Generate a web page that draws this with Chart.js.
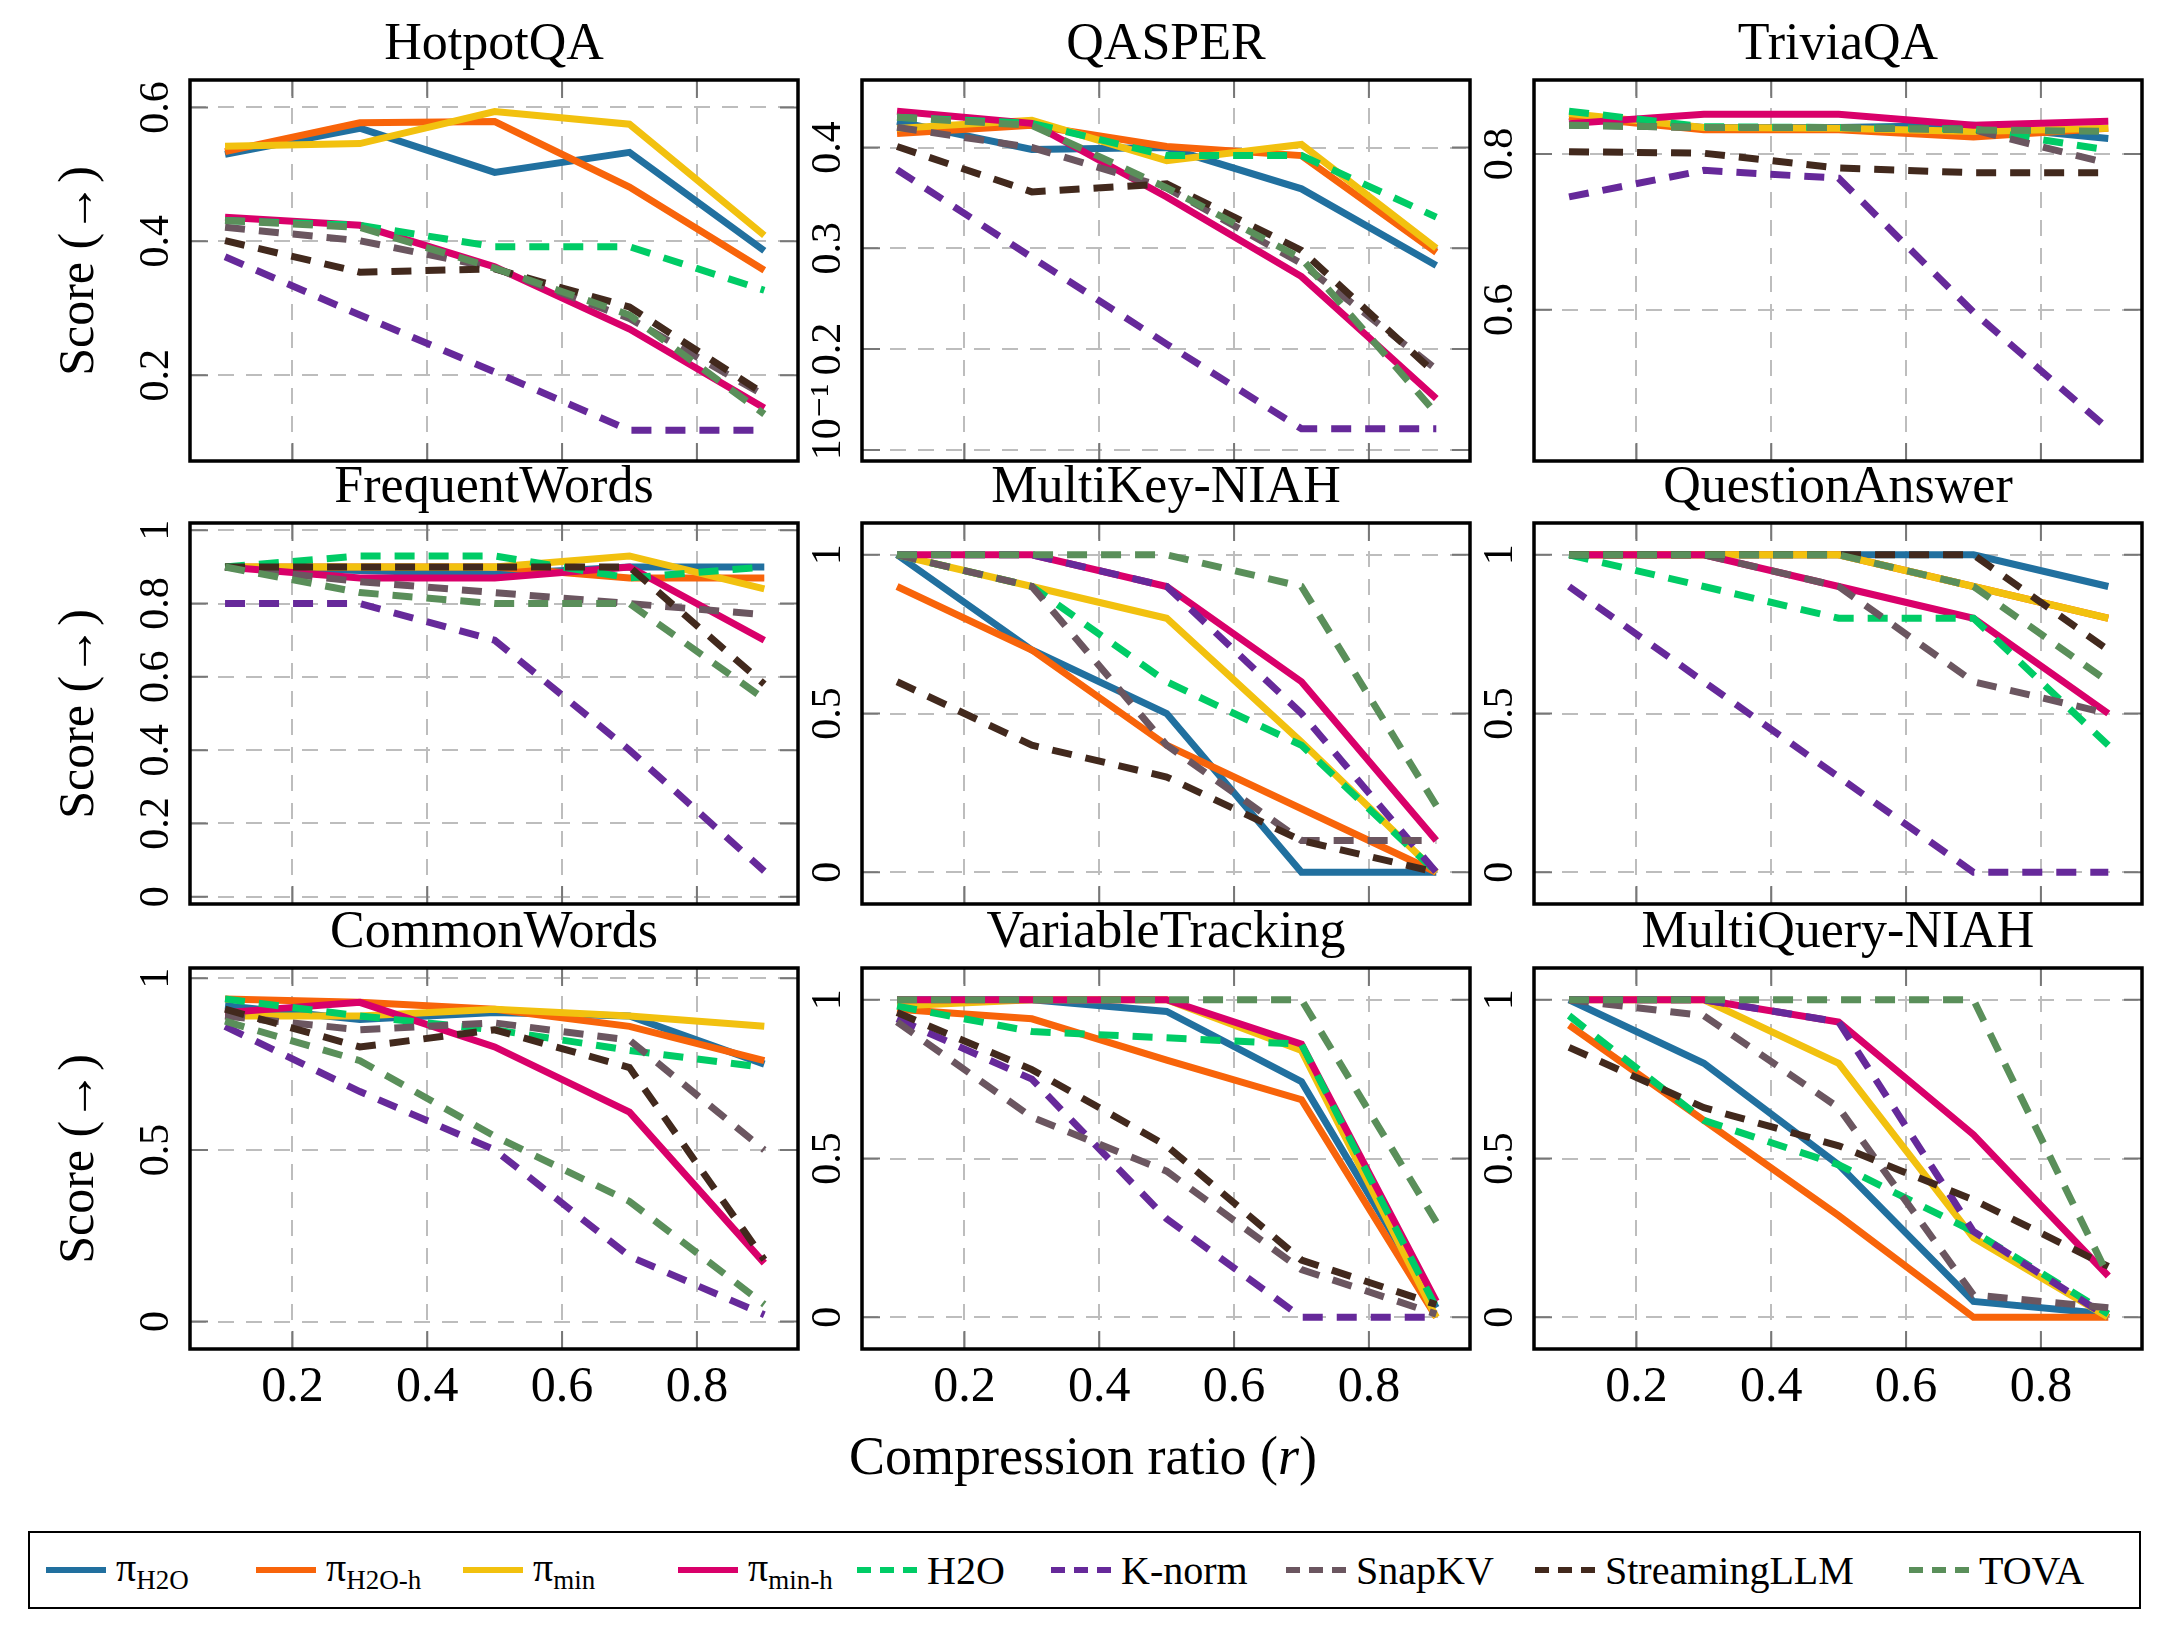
<!DOCTYPE html>
<html><head><meta charset="utf-8">
<script src="https://cdn.jsdelivr.net/npm/chart.js@4/dist/chart.umd.min.js"></script>
<style>
body{margin:0;width:2168px;height:1640px;background:#fff;position:relative;font-family:"Liberation Serif","DejaVu Serif",serif;}
canvas{position:absolute;}
.t{position:absolute;font-size:52px;text-align:center;white-space:nowrap;color:#000;font-family:"Liberation Serif","DejaVu Serif",serif;}
.yt{position:absolute;font-size:50px;white-space:nowrap;transform:translate(-50%,-50%) rotate(-90deg);font-family:"Liberation Serif","DejaVu Serif",serif;}
#legend{position:absolute;left:28px;top:1531px;width:2109px;height:74px;border:2px solid #000;}
.li{position:absolute;top:0;height:74px;display:flex;align-items:center;font-size:40px;white-space:nowrap;font-family:"Liberation Serif","DejaVu Serif",serif;}
.li span{font-family:"Liberation Serif","DejaVu Serif",serif;}
.li svg{margin-right:10px;}
sub{font-size:27px;vertical-align:-8px;font-family:"Liberation Serif","DejaVu Serif",serif;}
</style></head><body>
<div id="legend"></div>
<script>
const xValues = [0.1, 0.3, 0.5, 0.7, 0.9];
const methods = ["πH2O","πH2O-h","πmin","πmin-h","H2O","K-norm","SnapKV","StreamingLLM","TOVA"];
const colors = ["#21709f","#f8640a","#f2c10f","#d9006a","#00cc66","#66299a","#6b5660","#42291d","#5a8f5a"];
const dashed = [false,false,false,false,true,true,true,true,true];
const panelTitles = ["HotpotQA","QASPER","TriviaQA","FrequentWords","MultiKey-NIAH","QuestionAnswer","CommonWords","VariableTracking","MultiQuery-NIAH"];

// rows: πH2O, πH2O-h, πmin, πmin-h, H2O, K-norm, SnapKV, StreamingLLM, TOVA
const hotpotqa = [
 [0.530,0.569,0.503,0.533,0.386],[0.534,0.577,0.579,0.481,0.357],[0.542,0.546,0.594,0.575,0.409],
 [0.436,0.424,0.362,0.269,0.151],[0.431,0.424,0.392,0.392,0.327],[0.377,0.29,0.205,0.118,0.118],
 [0.421,0.401,0.36,0.285,0.17],[0.401,0.354,0.359,0.302,0.172],[0.431,0.421,0.36,0.29,0.142]];
const qasper = [
 [0.426,0.398,0.400,0.359,0.283],[0.414,0.422,0.401,0.392,0.296],[0.419,0.427,0.387,0.403,0.300],
 [0.436,0.424,0.351,0.272,0.151],[0.430,0.424,0.392,0.392,0.331],[0.378,0.291,0.205,0.121,0.121],
 [0.420,0.400,0.360,0.285,0.180],[0.401,0.356,0.364,0.298,0.175],[0.430,0.422,0.360,0.290,0.136]];
const triviaqa = [
 [0.848,0.834,0.834,0.837,0.820],[0.848,0.831,0.831,0.822,0.833],[0.852,0.834,0.833,0.829,0.833],
 [0.839,0.851,0.851,0.837,0.842],[0.855,0.835,0.834,0.832,0.805],[0.745,0.779,0.769,0.597,0.447],
 [0.837,0.834,0.834,0.831,0.788],[0.803,0.801,0.782,0.776,0.776],[0.837,0.834,0.834,0.831,0.829]];
const frequentwords = [
 [0.90,0.89,0.88,0.90,0.90],[0.90,0.90,0.90,0.87,0.87],[0.90,0.90,0.90,0.93,0.84],
 [0.90,0.87,0.87,0.90,0.70],[0.90,0.93,0.93,0.87,0.90],[0.80,0.80,0.70,0.40,0.07],
 [0.90,0.86,0.83,0.80,0.77],[0.90,0.90,0.90,0.90,0.58],[0.90,0.83,0.80,0.80,0.54]];
const multikeyniah = [
 [1.0,0.7,0.5,0.0,0.0],[0.9,0.7,0.4,0.2,0.0],[1.0,0.9,0.8,0.41,0.0],
 [1.0,1.0,0.9,0.6,0.1],[1.0,0.9,0.6,0.4,0.0],[1.0,1.0,0.9,0.5,0.0],
 [1.0,0.9,0.4,0.1,0.1],[0.6,0.4,0.3,0.1,0.0],[1.0,1.0,1.0,0.9,0.21]];
const questionanswer = [
 [1,1,1,1,0.9],[1,1,1,0.9,0.8],[1,1,1,0.9,0.8],
 [1,1,0.9,0.8,0.5],[1,0.9,0.8,0.8,0.4],[0.9,0.6,0.3,0.0,0.0],
 [1,1,0.9,0.6,0.5],[1,1,1,1,0.7],[1,1,1,0.9,0.6]];
const commonwords = [
 [0.92,0.88,0.90,0.89,0.75],[0.94,0.93,0.91,0.86,0.76],[0.89,0.89,0.91,0.89,0.86],
 [0.90,0.93,0.80,0.61,0.17],[0.94,0.89,0.85,0.79,0.74],[0.86,0.67,0.50,0.19,0.02],
 [0.89,0.85,0.87,0.82,0.50],[0.91,0.80,0.85,0.74,0.18],[0.875,0.76,0.54,0.35,0.05]];
const variabletracking = [
 [1.0,1.0,0.963,0.742,0.03],[0.97,0.94,0.81,0.685,0.0],[0.98,1.0,1.0,0.84,0.0],
 [1.0,1.0,1.0,0.86,0.05],[0.98,0.90,0.88,0.86,0.03],[0.94,0.75,0.31,0.0,0.0],
 [0.93,0.63,0.46,0.15,0.01],[0.96,0.78,0.54,0.18,0.04],[1.0,1.0,1.0,1.0,0.30]];
const multiqueryniah = [
 [1.0,0.8,0.48,0.05,0.01],[0.92,0.62,0.32,0.0,0.0],[1.0,1.0,0.8,0.25,0.0],
 [1.0,1.0,0.93,0.575,0.13],[0.95,0.62,0.48,0.27,0.01],[1.0,1.0,0.93,0.27,0.0],
 [1.0,0.95,0.66,0.07,0.03],[0.85,0.66,0.54,0.37,0.16],[1.0,1.0,1.0,1.0,0.13]];
const panelData = [hotpotqa,qasper,triviaqa,frequentwords,multikeyniah,questionanswer,commonwords,variabletracking,multiqueryniah];

const yRanges = [[0.072,0.641],[0.089,0.467],[0.406,0.895],[-0.02,1.02],[-0.1,1.1],[-0.1,1.1],[-0.08,1.03],[-0.1,1.1],[-0.1,1.1]];
const yTickValues = [[0.2,0.4,0.6],[0.1,0.2,0.3,0.4],[0.6,0.8],[0,0.2,0.4,0.6,0.8,1],[0,0.5,1],[0,0.5,1],[0,0.5,1],[0,0.5,1],[0,0.5,1]];
const yTickLabels = [["0.2","0.4","0.6"],["1 · 10⁻¹","0.2","0.3","0.4"],["0.6","0.8"],["0","0.2","0.4","0.6","0.8","1"],["0","0.5","1"],["0","0.5","1"],["0","0.5","1"],["0","0.5","1"],["0","0.5","1"]];
const xTickValues = [0.2,0.4,0.6,0.8];
const xTickLabels = ["0.2","0.4","0.6","0.8"];
const xRange = [0.048,0.95];

const colLeft=[190,862,1534], rowTop=[80,523,968], PW=608, PH=381;
const PADL=70, PADT=5, PADR=8;
const FONT='"Liberation Serif","DejaVu Serif",serif';
Chart.defaults.font.family=FONT;

const framePlugin = {
  id:'frame',
  afterDraw(chart){
    const {ctx, chartArea:a, scales:{x,y}} = chart;
    const o = chart.options.plugins.frame;
    ctx.save();
    ctx.strokeStyle='#777'; ctx.lineWidth=2;
    y.ticks.forEach(t=>{const py=y.getPixelForValue(t.value);
      ctx.beginPath();ctx.moveTo(a.left,py);ctx.lineTo(a.left+18,py);ctx.moveTo(a.right,py);ctx.lineTo(a.right-18,py);ctx.stroke();});
    x.ticks.forEach(t=>{const px=x.getPixelForValue(t.value);
      ctx.beginPath();ctx.moveTo(px,a.bottom);ctx.lineTo(px,a.bottom-18);ctx.moveTo(px,a.top);ctx.lineTo(px,a.top+18);ctx.stroke();});
    ctx.strokeStyle='#000'; ctx.lineWidth=3.5;
    ctx.strokeRect(a.left,a.top,a.width,a.height);
    ctx.fillStyle='#000';
    ctx.font='42px '+FONT;
    y.ticks.forEach((t,i)=>{const py=y.getPixelForValue(t.value);
      ctx.save();ctx.translate(a.left-12,py);ctx.rotate(-Math.PI/2);
      ctx.textAlign='center';ctx.textBaseline='bottom';ctx.fillText(o.yLabels[i],0,0);ctx.restore();});
    if(o.showX){
      ctx.font='50px '+FONT; ctx.textAlign='center'; ctx.textBaseline='top';
      x.ticks.forEach((t,i)=>{ctx.fillText(xTickLabels[i],x.getPixelForValue(t.value),a.bottom+14);});
    }
    ctx.restore();
  }
};

panelData.forEach((rows,p)=>{
  const r=Math.floor(p/3), c=p%3;
  const bottomRow = r===2;
  const padB = bottomRow?80:8;
  const cv=document.createElement('canvas');
  const W=PW+PADL+PADR, H=PH+PADT+padB;
  cv.width=W; cv.height=H;
  cv.style.left=(colLeft[c]-PADL)+'px'; cv.style.top=(rowTop[r]-PADT)+'px';
  cv.style.width=W+'px'; cv.style.height=H+'px';
  document.body.appendChild(cv);
  const tt=document.createElement('div'); tt.className='t'; tt.textContent=panelTitles[p];
  tt.style.left=colLeft[c]+'px'; tt.style.width=PW+'px'; tt.style.top=(rowTop[r]-68)+'px';
  document.body.appendChild(tt);
  const datasets = rows.map((vals,i)=>({
    label:methods[i],
    data:xValues.map((xv,k)=>({x:xv,y:vals[k]})),
    borderColor:colors[i], backgroundColor:colors[i],
    borderWidth:7, borderDash: dashed[i]?[20,14]:[],
    pointRadius:0, tension:0, order:8-i, clip:false
  }));
  new Chart(cv,{
    type:'line',
    data:{datasets},
    plugins:[framePlugin],
    options:{
      responsive:false, animation:false, devicePixelRatio:1,
      layout:{padding:{left:PADL,top:PADT,right:PADR,bottom:padB}},
      plugins:{legend:{display:false},tooltip:{enabled:false},
        frame:{yLabels:yTickLabels[p],showX:bottomRow}},
      scales:{
        x:{type:'linear',min:xRange[0],max:xRange[1],
          afterBuildTicks:s=>{s.ticks=xTickValues.map(v=>({value:v}));},
          afterFit:s=>{s.height=0;},
          ticks:{display:false},
          grid:{color:'#bdbdbd',lineWidth:2,drawTicks:false},
          border:{display:false,dash:[16,12]}},
        y:{type:'linear',min:yRanges[p][0],max:yRanges[p][1],
          afterBuildTicks:s=>{s.ticks=yTickValues[p].map(v=>({value:v}));},
          afterFit:s=>{s.width=0;},
          ticks:{display:false},
          grid:{color:'#bdbdbd',lineWidth:2,drawTicks:false},
          border:{display:false,dash:[16,12]}}
      }
    }
  });
});

[0,1,2].forEach(r=>{
  const d=document.createElement('div'); d.className='yt'; d.textContent='Score (→)';
  d.style.left='76px'; d.style.top=(rowTop[r]+PH/2)+'px';
  document.body.appendChild(d);
});
const xt=document.createElement('div'); xt.className='t'; xt.style.fontSize='54px';
xt.innerHTML='Compression ratio (<i>r</i>)';
xt.style.left='683px'; xt.style.width='800px'; xt.style.top='1425px';
document.body.appendChild(xt);

const legendHTML = ["π<sub>H2O</sub>","π<sub>H2O-h</sub>","π<sub>min</sub>","π<sub>min-h</sub>","H2O","K-norm","SnapKV","StreamingLLM","TOVA"];
const legendLeft = [16,226,433,648,827,1021,1256,1505,1879];
const lg=document.getElementById('legend');
legendHTML.forEach((h,i)=>{
  const it=document.createElement('div'); it.className='li'; it.style.left=legendLeft[i]+'px';
  it.innerHTML=`<svg width="60" height="10"><line x1="0" y1="5" x2="60" y2="5" stroke="${colors[i]}" stroke-width="6" ${dashed[i]?'stroke-dasharray="14 9"':''}/></svg><span>${h}</span>`;
  lg.appendChild(it);
});
</script>
</body></html>
